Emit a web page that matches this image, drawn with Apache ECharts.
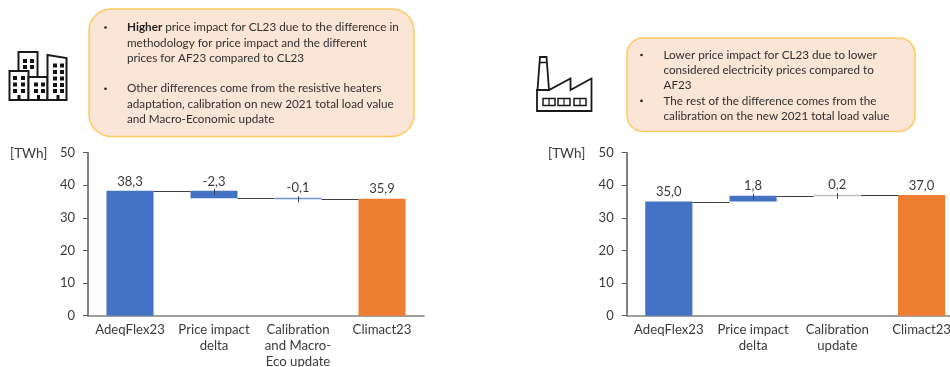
<!DOCTYPE html>
<html>
<head>
<meta charset="utf-8">
<style>html,body{margin:0;padding:0;background:#fff}#chart{width:950px;height:367px}</style>
<script src="https://cdn.jsdelivr.net/npm/echarts@6/dist/echarts.min.js"></script>
</head>
<body>
<div id="chart"></div>
<script>
// Residential and industrial demand bridges, AdeqFlex23 to Climact23, in TWh
const buildingCategories = ['AdeqFlex23', 'Price impact\ndelta', 'Calibration\nand Macro-\nEco update', 'Climact23'];
const buildingSteps = [38.3, -2.3, -0.1, 35.9];
const factoryCategories = ['AdeqFlex23', 'Price impact\ndelta', 'Calibration\nupdate', 'Climact23'];
const factorySteps = [35.0, 1.8, 0.2, 37.0];
const yTicks = { min: 0, max: 50, interval: 10 };
const unitLabel = '[TWh]';

const buildingNotes = [
  '{b|Higher} price impact for CL23 due to the difference in',
  'methodology for price impact and the different',
  'prices for AF23 compared to CL23',
  '',
  'Other differences come from the resistive heaters',
  'adaptation, calibration on new 2021 total load value',
  'and Macro-Economic update'
];
const factoryNotes = [
  'Lower price impact for CL23 due to lower',
  'considered electricity prices compared to',
  'AF23',
  'The rest of the difference comes from the',
  'calibration on the new 2021 total load value'
];

const FONT = 'Lato';
const TEXT = '#3a3a3a';
const BLUE = '#4472C4';
const ORANGE = '#ED7D31';
const NOTE_SIZE = 11.7;

// Running level after each step; first and last entries are totals from zero
function levels(steps) {
  const out = [steps[0]];
  for (let i = 1; i < steps.length - 1; i++) {
    out.push(Math.round((out[i - 1] + steps[i]) * 10) / 10);
  }
  return out;
}
function bases(steps) {
  const lv = levels(steps);
  return steps.map((s, i) => (i === 0 || i === steps.length - 1) ? 0 : Math.min(lv[i - 1], lv[i]));
}
const comma = v => v.toFixed(1).replace('.', ',');

function barSeries(steps, idx, thinColor) {
  const stack = 'bridge' + idx;
  const common = { type: 'bar', stack, xAxisIndex: idx, yAxisIndex: idx, barWidth: '56%', silent: true };
  return [
    Object.assign({}, common, {
      data: bases(steps),
      itemStyle: { color: 'transparent' }
    }),
    Object.assign({}, common, {
      data: steps.map((s, i) => {
        let color = BLUE, borderColor = 'transparent', borderWidth = 0;
        if (i === steps.length - 1) color = ORANGE;
        if (i === 2) { color = thinColor; borderColor = thinColor; borderWidth = 1.5; }
        return { value: Math.abs(s), itemStyle: { color, borderColor, borderWidth } };
      }),
      label: {
        show: true, position: 'top', distance: 3,
        fontFamily: FONT, fontSize: 13, color: TEXT,
        formatter: p => comma(steps[p.dataIndex])
      }
    })
  ];
}

// Connectors between neighbouring bars and the short leader ticks on the delta bars
function connectorSeries(steps, idx) {
  const lv = levels(steps);
  const tops = steps.map((s, i) => (i === 0 || i === steps.length - 1) ? s : Math.max(lv[i - 1], lv[i]));
  const rows = lv.map((l, i) => [i, l, tops[i + 1]]);
  return {
    type: 'custom', xAxisIndex: idx, yAxisIndex: idx, silent: true, z: 5,
    data: rows,
    renderItem(params, api) {
      const i = api.value(0);
      const p = api.coord([i, api.value(1)]);
      const band = api.size([1, 0])[0];
      const half = band * 0.28;
      const y = Math.round(p[1]) + 0.5;
      const children = [{
        type: 'line',
        shape: { x1: p[0] + half, y1: y, x2: p[0] + band - half, y2: y },
        style: { stroke: '#404040', lineWidth: 1 }
      }];
      if (i < 2) {
        const q = api.coord([i + 1, api.value(2)]);
        const x = Math.round(q[0]) + 0.5;
        children.push({
          type: 'line',
          shape: { x1: x, y1: q[1] - 2, x2: x, y2: q[1] + 4 },
          style: { stroke: '#404040', lineWidth: 1 }
        });
      }
      return { type: 'group', children };
    }
  };
}

function xAxisFor(cats, idx) {
  return {
    type: 'category', gridIndex: idx, data: cats,
    axisLine: { lineStyle: { color: '#808080', width: 1.5 } },
    axisTick: { show: false },
    axisLabel: { fontFamily: FONT, fontSize: 13.2, color: TEXT, lineHeight: 16, margin: 6, interval: 0, hideOverlap: false }
  };
}
function yAxisFor(idx) {
  return Object.assign({}, yTicks, {
    type: 'value', gridIndex: idx,
    splitLine: { show: false },
    axisLine: { show: true, onZero: false, lineStyle: { color: '#595959', width: 1.5 } },
    axisTick: { show: true, length: 5, lineStyle: { color: '#595959' } },
    axisLabel: { fontFamily: FONT, fontSize: 13, color: TEXT, margin: 13 }
  });
}

// Rounded note box with bullet marks and text lines
function noteBox(box, lines, lineStep, firstY, bulletX, textX, bulletRows) {
  const out = [{
    type: 'rect',
    shape: { x: box.x, y: box.y, width: box.w, height: box.h, r: box.r },
    style: { fill: '#FBE5D6', stroke: '#FFC95F', lineWidth: 1.5 }
  }];
  lines.forEach((line, i) => {
    if (!line) return;
    out.push({
      type: 'text', x: textX, y: firstY + i * lineStep,
      style: {
        text: line, fontFamily: FONT, fontSize: NOTE_SIZE, fill: '#2e2e2e',
        verticalAlign: 'middle',
        rich: { b: { fontFamily: FONT, fontSize: NOTE_SIZE, fontWeight: 'bold', fill: '#222' } }
      }
    });
  });
  bulletRows.forEach(r => out.push({
    type: 'circle',
    shape: { cx: bulletX, cy: firstY + r * lineStep, r: 1.3 },
    style: { fill: '#222' }
  }));
  return out;
}

// Office block pictogram
function buildingIcon() {
  const outline = { fill: '#fff', stroke: '#1a1a1a', lineWidth: 2 };
  const shapes = [
    { type: 'polygon', shape: { points: [[18.5, 52], [37.5, 52], [37.5, 100], [18.5, 100]] }, style: outline },
    { type: 'polygon', shape: { points: [[9.5, 71], [28.5, 71], [28.5, 100], [9.5, 100]] }, style: outline },
    { type: 'polygon', shape: { points: [[28.5, 77], [47.5, 77], [47.5, 100], [28.5, 100]] }, style: outline },
    { type: 'polygon', shape: { points: [[47.5, 55], [66.5, 58], [66.5, 100], [47.5, 100]] }, style: outline }
  ];
  const windows = [
    [[13, 76], [21, 76], [13, 82.5], [21, 82.5], [13, 89], [21, 89]],
    [[23, 59], [30, 59], [23, 65], [30, 65]],
    [[34, 82.5], [41, 82.5], [34, 89], [41, 89]],
    [[53, 63.5], [60, 63.5], [53, 70], [60, 70], [53, 76.5], [60, 76.5], [53, 83], [60, 83], [53, 89], [60, 89]]
  ].flat();
  windows.forEach(([x, y]) => shapes.push({
    type: 'rect', shape: { x, y, width: 4, height: 4 }, style: { fill: '#111' }
  }));
  [17.5, 37, 56.5].forEach(x => shapes.push({
    type: 'rect', shape: { x, y: 95, width: 3, height: 5 }, style: { fill: '#111' }
  }));
  return shapes;
}

// Factory pictogram
function factoryIcon() {
  const shapes = [{
    type: 'polygon',
    shape: { points: [[537, 90], [549, 90], [570.5, 78.5], [570.5, 90], [591.5, 78.5], [591.5, 111], [537, 111]] },
    style: { fill: '#fff', stroke: '#1a1a1a', lineWidth: 1.8 }
  }, {
    type: 'polygon',
    shape: { points: [[540, 57], [546.5, 57], [549, 90], [537.5, 90]] },
    style: { fill: '#fff', stroke: '#1a1a1a', lineWidth: 1.8 }
  }, {
    type: 'line', shape: { x1: 539.5, y1: 62.5, x2: 547, y2: 62.5 },
    style: { stroke: '#1a1a1a', lineWidth: 1.5 }
  }];
  [543, 558, 574].forEach(x => {
    shapes.push({
      type: 'rect', shape: { x, y: 98.5, width: 12, height: 7 },
      style: { fill: '#fff', stroke: '#1a1a1a', lineWidth: 1.5 }
    });
    shapes.push({
      type: 'line', shape: { x1: x + 6, y1: 98.5, x2: x + 6, y2: 105.5 },
      style: { stroke: '#1a1a1a', lineWidth: 1.2 }
    });
  });
  return shapes;
}

const unitText = (x, y) => ({
  type: 'text', x, y,
  style: { text: unitLabel, fontFamily: FONT, fontSize: 13.5, fill: TEXT, verticalAlign: 'middle' }
});

const chart = echarts.init(document.getElementById('chart'), null, { renderer: 'canvas' });
chart.setOption({
  animation: false,
  backgroundColor: '#fff',
  grid: [
    { left: 88, top: 152.7, width: 336, height: 163, outerBoundsMode: 'none', containLabel: false },
    { left: 626.7, top: 152.7, width: 337, height: 163, outerBoundsMode: 'none', containLabel: false }
  ],
  xAxis: [xAxisFor(buildingCategories, 0), xAxisFor(factoryCategories, 1)],
  yAxis: [yAxisFor(0), yAxisFor(1)],
  series: [
    ...barSeries(buildingSteps, 0, '#6F93D3'),
    connectorSeries(buildingSteps, 0),
    ...barSeries(factorySteps, 1, '#BFBFBF'),
    connectorSeries(factorySteps, 1)
  ],
  graphic: [
    ...noteBox({ x: 89, y: 9, w: 325, h: 127.5, r: 22 }, buildingNotes, 15.3, 27.5, 105.5, 127, [0, 4]),
    ...noteBox({ x: 627, y: 38, w: 288, h: 93.5, r: 16 }, factoryNotes, 15.3, 55, 641.5, 663.5, [0, 3]),
    ...buildingIcon(),
    ...factoryIcon(),
    unitText(10, 154),
    unitText(548, 154)
  ].map(g => Object.assign({ silent: true }, g))
});
</script>
</body>
</html>
